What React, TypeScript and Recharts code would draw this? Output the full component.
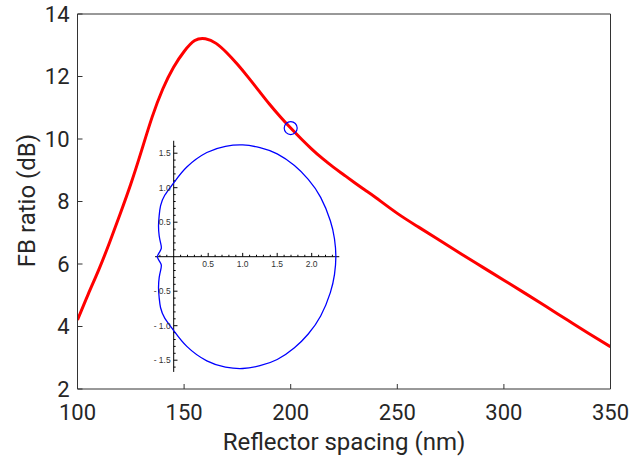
import React from 'react';
import { ComposedChart, Line, Scatter, XAxis, YAxis, ReferenceLine } from 'recharts';

// Main curve: FB ratio (dB) vs reflector spacing (nm)
const spacingNm = [100, 105, 110, 115, 120, 125, 130, 135, 140, 145, 150, 155, 160, 165, 170, 175, 180, 185, 190, 195, 200, 205, 210, 215, 220, 225, 230, 235, 240, 250, 260, 270, 280, 290, 300, 310, 320, 330, 340, 350];
const fbRatioDb = [4.21, 5.03, 5.82, 6.68, 7.6, 8.56, 9.62, 10.7, 11.6, 12.29, 12.8, 13.15, 13.21, 13.06, 12.76, 12.39, 11.98, 11.55, 11.12, 10.72, 10.35, 10.0, 9.67, 9.37, 9.1, 8.85, 8.6, 8.36, 8.12, 7.62, 7.18, 6.75, 6.32, 5.9, 5.48, 5.06, 4.63, 4.2, 3.77, 3.35];

const markerX = [200];
const markerY = [10.35];

const xTicks = [100, 150, 200, 250, 300, 350];
const yTicks = [2, 4, 6, 8, 10, 12, 14];

// Inset: radiation pattern (x, y)
const patternX = [-0.24, -0.21, -0.18, -0.19, -0.21, -0.22, -0.21, -0.19, -0.13, 0.0, 0.19, 0.48, 0.75, 1.0, 1.25, 1.5, 1.75, 1.95, 2.13, 2.27, 2.33, 2.35,
  2.33, 2.27, 2.13, 1.95, 1.75, 1.5, 1.25, 1.0, 0.75, 0.48, 0.19, 0.0, -0.13, -0.19, -0.21, -0.22, -0.21, -0.19, -0.18, -0.21, -0.24];
const patternY = [0.0, 0.06, 0.12, 0.2, 0.3, 0.45, 0.6, 0.74, 0.89, 1.07, 1.3, 1.51, 1.6, 1.62, 1.58, 1.49, 1.32, 1.12, 0.86, 0.52, 0.26, 0.0,
  -0.26, -0.52, -0.86, -1.12, -1.32, -1.49, -1.58, -1.62, -1.6, -1.51, -1.3, -1.07, -0.89, -0.74, -0.6, -0.45, -0.3, -0.2, -0.12, -0.06, 0.0];

const insetMajorX = [0.5, 1.0, 1.5, 2.0];
const insetMajorXLabels = ['0.5', '1.0', '1.5', '2.0'];
const insetMinorX = [-0.2, -0.1, 0.1, 0.2, 0.3, 0.4, 0.6, 0.7, 0.8, 0.9, 1.1, 1.2, 1.3, 1.4, 1.6, 1.7, 1.8, 1.9, 2.1, 2.2, 2.3];
const insetMajorY = [1.5, 1.0, 0.5, -0.5, -1.0, -1.5];
const insetMajorYLabels = ['1.5', '1.0', '0.5', '- 0.5', '- 1.0', '- 1.5'];
const insetMinorY = [1.6, 1.4, 1.3, 1.2, 1.1, 0.9, 0.8, 0.7, 0.6, 0.4, 0.3, 0.2, 0.1, -0.1, -0.2, -0.3, -0.4, -0.6, -0.7, -0.8, -0.9, -1.1, -1.2, -1.3, -1.4, -1.6];

const mainData = spacingNm.map((x, i) => ({ x, y: fbRatioDb[i] }));
const markerData = markerX.map((x, i) => ({ x, y: markerY[i] }));
const patternData = patternX.map((x, i) => ({ x, y: patternY[i] }));

const AXIS = '#333333';
const FONT = 'Roboto, sans-serif';
const TEXT = '#262626';

const XLabel = (props: any) => {
  const vb = props.viewBox || {};
  return (
    <text x={vb.x + vb.width / 2} y={vb.y + 61} textAnchor="middle" fontFamily={FONT} fontSize={24} fill={TEXT}>
      Reflector spacing (nm)
    </text>
  );
};

const YLabel = (props: any) => {
  const vb = props.viewBox || {};
  const cx = 35;
  const cy = vb.y + vb.height / 2 - 1;
  return (
    <text x={cx} y={cy} transform={`rotate(-90, ${cx}, ${cy})`} textAnchor="middle" fontFamily={FONT} fontSize={24} fill={TEXT}>
      FB ratio (dB)
    </text>
  );
};

const MarkerShape = (props: any) => (
  <circle cx={props.cx} cy={props.cy} r={6.5} fill="none" stroke="#0000ff" strokeWidth={1.2} />
);

const MAJ = 0.055;
const MIN = 0.028;
const insetLabelStyle = { fontSize: 8.5, fill: '#333', fontFamily: 'Liberation Sans, Arial, sans-serif' };

export default function App() {
  return (
    <div style={{ position: 'absolute', left: 0, top: 0, width: 630, height: 459, background: '#fff' }}>
      <div style={{ position: 'absolute', left: 0, top: 0 }}>
        <ComposedChart width={630} height={459} margin={{ top: 13, right: 18.5, bottom: 0, left: 0 }}>
          <XAxis
            dataKey="x"
            type="number"
            domain={[100, 350]}
            ticks={xTicks}
            allowDataOverflow
            height={70}
            stroke={AXIS}
            tickSize={-5}
            tickMargin={20}
            tick={{ fontSize: 22, fill: TEXT, fontFamily: FONT }}
            label={<XLabel />}
          />
          <XAxis
            xAxisId="top"
            orientation="top"
            type="number"
            domain={[100, 350]}
            ticks={xTicks}
            allowDataOverflow
            height={1}
            stroke={AXIS}
            tickSize={-5}
            tick={false}
          />
          <YAxis
            type="number"
            domain={[2, 14]}
            ticks={yTicks}
            allowDataOverflow
            width={77.5}
            stroke={AXIS}
            tickSize={-5}
            tickMargin={13}
            tick={{ fontSize: 22, fill: TEXT, fontFamily: FONT }}
            label={<YLabel />}
          />
          <YAxis
            yAxisId="right"
            orientation="right"
            type="number"
            domain={[2, 14]}
            ticks={yTicks}
            allowDataOverflow
            width={1}
            stroke={AXIS}
            tickSize={-5}
            tick={false}
          />
          <Line data={mainData} dataKey="y" type="natural" stroke="#ff0000" strokeWidth={3} dot={false} isAnimationActive={false} />
          <Scatter data={markerData} dataKey="y" shape={<MarkerShape />} isAnimationActive={false} />
        </ComposedChart>
      </div>
      <div style={{ position: 'absolute', left: 130, top: 135 }}>
        <ComposedChart width={215} height={245} margin={{ top: 5.78, right: 5.7, bottom: 8.07, left: 25.07 }}>
          <XAxis dataKey="x" type="number" domain={[-0.27, 2.4]} allowDataOverflow hide />
          <YAxis type="number" domain={[-1.67, 1.68]} allowDataOverflow hide />
          <ReferenceLine y={0} stroke="#000" strokeWidth={1} />
          <ReferenceLine x={0} stroke="#000" strokeWidth={1} />
          {insetMinorX.map((v) => (
            <ReferenceLine key={`mx${v}`} segment={[{ x: v, y: 0 }, { x: v, y: MIN }]} stroke="#000" strokeWidth={1} />
          ))}
          {insetMinorY.map((v) => (
            <ReferenceLine key={`my${v}`} segment={[{ x: 0, y: v }, { x: MIN, y: v }]} stroke="#000" strokeWidth={1} />
          ))}
          {insetMajorX.map((v, i) => (
            <ReferenceLine
              key={`Mx${v}`}
              segment={[{ x: v, y: 0 }, { x: v, y: MAJ }]}
              stroke="#000"
              strokeWidth={1}
              label={{ value: insetMajorXLabels[i], position: 'bottom', offset: 4, ...insetLabelStyle }}
            />
          ))}
          {insetMajorY.map((v, i) => (
            <ReferenceLine
              key={`My${v}`}
              segment={[{ x: 0, y: v }, { x: MAJ, y: v }]}
              stroke="#000"
              strokeWidth={1}
              label={{ value: insetMajorYLabels[i], position: 'left', offset: 3, ...insetLabelStyle }}
            />
          ))}
          <Line data={patternData} dataKey="y" type="natural" stroke="#0000ff" strokeWidth={1.3} dot={false} isAnimationActive={false} />
        </ComposedChart>
      </div>
    </div>
  );
}
